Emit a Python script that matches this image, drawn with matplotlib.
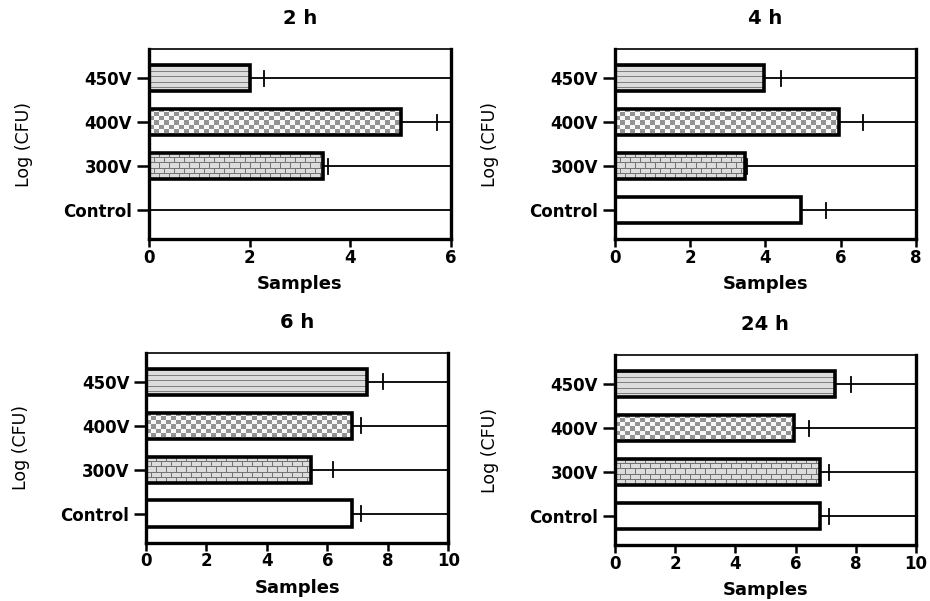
import numpy as np
import matplotlib
matplotlib.use("Agg")
import matplotlib.pyplot as plt

plt.rcParams['font.family'] = ['DejaVu Sans']

categories = ['Control', '300V', '400V', '450V']
titles = ['2 h', '4 h', '6 h', '24 h']
xmaxes = [6, 8, 10, 10]

# mean values per panel (Control, 300V, 400V, 450V)
means = [
    [0.0, 3.45, 5.0, 2.0],
    [4.95, 3.45, 5.95, 3.95],
    [6.8, 5.45, 6.8, 7.3],
    [6.8, 6.8, 5.95, 7.3],
]
# upper error bar end
upper = [
    [0.0, 3.55, 5.72, 2.28],
    [5.6, 3.5, 6.6, 4.42],
    [7.1, 6.2, 7.1, 7.85],
    [7.1, 7.1, 6.45, 7.85],
]

patterns = ['plain', 'brick', 'checker', 'stripes']


def pattern_img(kind, w, h):
    yy, xx = np.mgrid[0:h, 0:w]
    if kind == 'stripes':
        img = np.where(yy % 5 == 2, 0.5, 0.86)
    elif kind == 'checker':
        img = np.where((xx // 5 + yy // 4) % 2 == 0, 0.58, 0.97)
    elif kind == 'brick':
        img = np.full((h, w), 0.86)
        off = np.where((yy // 5) % 2 == 0, 0, 5)
        img[yy % 5 == 0] = 0.45
        img[((xx + off) % 10 == 0)] = 0.45
    else:
        img = np.ones((h, w))
    return img


fig = plt.figure(figsize=(9.3, 6.01), dpi=100)
positions = [
    [0.160, 0.602, 0.325, 0.316],
    [0.661, 0.602, 0.324, 0.316],
    [0.157, 0.097, 0.325, 0.316],
    [0.661, 0.093, 0.324, 0.316],
]

bar_h = 0.6
for k in range(4):
    ax = fig.add_axes(positions[k])
    xmax = xmaxes[k]
    ax_w_px = positions[k][2] * 930
    ax_h_px = positions[k][3] * 601
    ylo, yhi = -0.66, 3.66
    for i, cat in enumerate(categories):
        v = means[k][i]
        u = upper[k][i]
        ax.plot([0, xmax], [i, i], color='black', lw=1.3, zorder=1,
                solid_capstyle='butt')
        if v > 0:
            ax.plot([u, u], [i - 0.17, i + 0.17], color='black', lw=1.3, zorder=1)
            bars = ax.barh(i, v, height=bar_h, facecolor='none',
                           edgecolor='black', linewidth=2.6, zorder=3)
            w_px = max(int(v / xmax * ax_w_px), 1)
            h_px = max(int(bar_h / (yhi - ylo) * ax_h_px), 1)
            img = pattern_img(patterns[i], w_px, h_px)
            im = ax.imshow(img, extent=(0, v, i - bar_h / 2, i + bar_h / 2),
                           aspect='auto', interpolation='nearest', cmap='gray',
                           vmin=0, vmax=1, zorder=2)
            im.set_clip_path(bars.patches[0])
    ax.set_xlim(0, xmax)
    ax.set_ylim(ylo, yhi)
    ax.set_aspect('auto')
    ax.set_yticks(range(4))
    ax.set_yticklabels(categories, fontweight='bold', fontsize=12)
    ax.set_xticks(np.arange(0, xmax + 1, 2))
    ax.set_xticklabels([str(t) for t in range(0, xmax + 1, 2)],
                       fontweight='bold', fontsize=12)
    ax.tick_params(axis='y', length=9, width=1.8, pad=3)
    ax.tick_params(axis='x', length=6, width=1.8, pad=1)
    for s in ['left', 'bottom', 'right']:
        ax.spines[s].set_linewidth(2.4)
    ax.spines['top'].set_linewidth(1.2)
    ax.set_title(titles[k], fontweight='bold', fontsize=14, pad=18)
    ax.set_xlabel('Samples', fontweight='bold', fontsize=13, labelpad=6)
    ax.set_ylabel('Log (CFU)', fontsize=12.5, labelpad=22)

fig.savefig('out.png', dpi=100)
